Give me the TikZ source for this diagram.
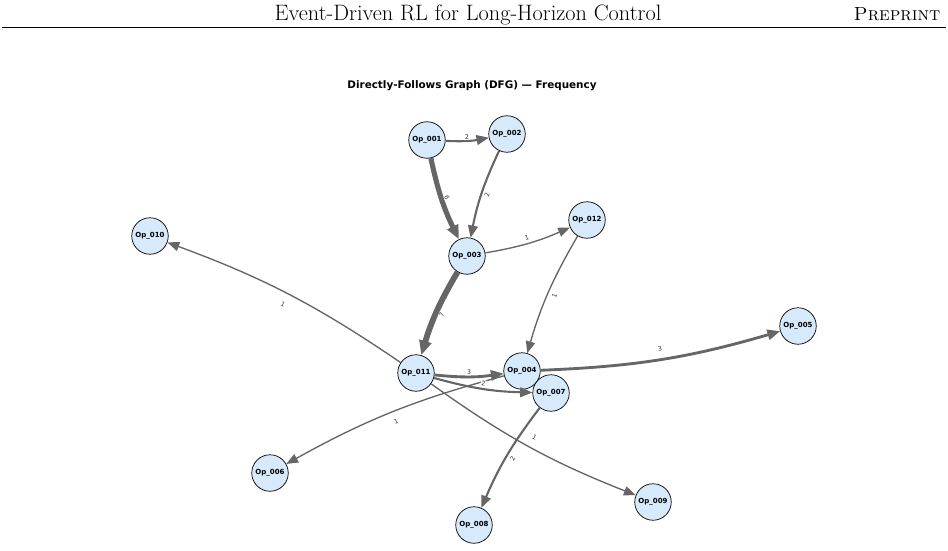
\documentclass[tikz,border=0pt]{standalone}
\usepackage{fontspec}
\newfontfamily\dejavu{DejaVu Sans}
\usetikzlibrary{arrows.meta}
\definecolor{nodefill}{HTML}{D6EAFB}
\definecolor{edgegray}{HTML}{666666}
\tikzset{
  op/.style={circle, draw=black, line width=0.7pt, fill=nodefill, minimum size=36.5pt, inner sep=0pt,
    font=\dejavu\bfseries\fontsize{7}{8}\selectfont},
  flow/.style={draw=edgegray, line width={0.6pt+0.75pt*#1}, bend right=7,
    -{Triangle[length=11pt 0.6, width=8.5pt 0.6]}},
  elabel/.style={fill=white, fill opacity=0.85, text opacity=1, inner sep=0.6pt, sloped,
    font=\dejavu\fontsize{6.3}{7}\selectfont, text=black!80},
}
\begin{document}
\begin{tikzpicture}[x=1pt,y=-1pt]
\useasboundingbox (0,0) rectangle (948,551);
% header
\node[anchor=base, font=\fontsize{22.3}{26}\selectfont] (hdr) at (468,21) {Event-Driven RL for Long-Horizon Control};
\node[anchor=base east, font=\fontsize{19}{23}\selectfont] (pre) at (944,21) {\textsc{Preprint}};
\coordinate (rl) at (2,27.5);
\coordinate (rr) at (946,27.5);
\draw[line width=0.9pt] (rl) -- (rr);
% title
\node[font=\dejavu\bfseries\fontsize{10.4}{12}\selectfont] (title) at (472,86) {Directly-Follows Graph (DFG) — Frequency};
% nodes
\node[op] (n001) at (427,140) {Op\_001};
\node[op] (n002) at (507,134) {Op\_002};
\node[op] (n003) at (467,256) {Op\_003};
\node[op] (n012) at (587,220) {Op\_012};
\node[op] (n010) at (150,236) {Op\_010};
\node[op] (n011) at (416,373) {Op\_011};
\node[op] (n004) at (522,371) {Op\_004};
\node[op] (n007) at (551,393) {Op\_007};
\node[op] (n005) at (798,326) {Op\_005};
\node[op] (n006) at (270,473) {Op\_006};
\node[op] (n008) at (474,525) {Op\_008};
\node[op] (n009) at (653,502) {Op\_009};
% edges
\draw[flow=2] (n001) to (n002);
\draw[flow=6] (n001) to (n003);
\draw[flow=2] (n002) to (n003);
\draw[flow=1] (n003) to (n012);
\draw[flow=7] (n003) to (n011);
\draw[flow=1] (n012) to (n004);
\draw[flow=1] (n011) to (n010);
\draw[flow=3] (n011) to (n004);
\draw[flow=2] (n011) to (n007);
\draw[flow=3] (n004) to (n005);
\draw[flow=1] (n004) to (n006);
\draw[flow=1] (n011) to (n009);
\draw[flow=2] (n007) to (n008);
% edge labels
\path (n001) -- node[elabel] {2} (n002);
\path (n001) -- node[elabel] {6} (n003);
\path (n002) -- node[elabel] {2} (n003);
\path (n003) -- node[elabel] {1} (n012);
\path (n003) -- node[elabel] {7} (n011);
\path (n012) -- node[elabel] {1} (n004);
\path (n011) -- node[elabel] {1} (n010);
\path (n011) -- node[elabel] {3} (n004);
\path (n011) -- node[elabel] {2} (n007);
\path (n004) -- node[elabel] {3} (n005);
\path (n004) -- node[elabel] {1} (n006);
\path (n011) -- node[elabel] {1} (n009);
\path (n007) -- node[elabel] {2} (n008);
\end{tikzpicture}
\end{document}
